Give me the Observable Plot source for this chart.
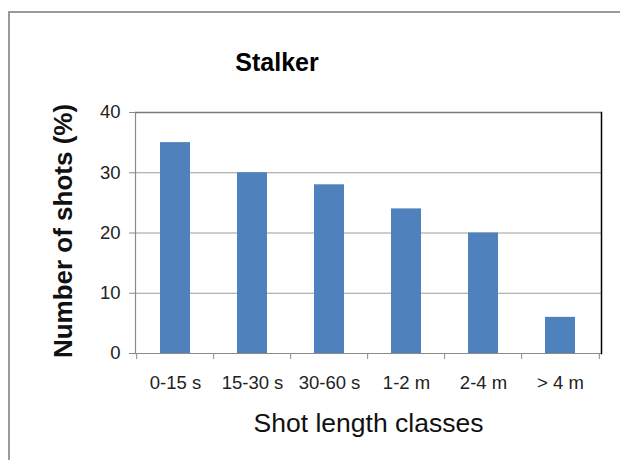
<!DOCTYPE html>
<html>
<head>
<meta charset="utf-8">
<script src="https://cdn.jsdelivr.net/npm/d3@7"></script>
<script src="https://cdn.jsdelivr.net/npm/@observablehq/plot@0.6"></script>
<style>
  body { margin: 0; background: #fff; }
  #wrap { position: relative; width: 620px; height: 460px; overflow: hidden; font-family: "Liberation Sans", Arial, sans-serif; }
  #border { position: absolute; left: 8px; top: 11px; width: 640px; height: 480px; border-left: 2px solid #9a9a9a; border-top: 2px solid #9a9a9a; }
  #title { position: absolute; left: 0; width: 554px; top: 50px; text-align: center; font-weight: bold; font-size: 25px; line-height: 25px; color: #000; }
  #chart { position: absolute; left: 0; top: 0; }
</style>
</head>
<body>
<div id="wrap">
  <div id="border"></div>
  <div id="chart"></div>
  <div id="title"></div>
</div>
<script>
// ---- data ----
const categories = ["0-15 s", "15-30 s", "30-60 s", "1-2 m", "2-4 m", "> 4 m"];
const shots = [35, 30, 28, 24, 20, 6];
const yTicks = [0, 10, 20, 30, 40];
const gridValues = [10, 20, 30];
const topValue = [40];
const titleText = "Stalker";
const xLabel = "Shot length classes";
const yLabel = "Number of shots (%)";

const data = categories.map((c, i) => ({ cat: c, value: shots[i] }));

document.getElementById("title").textContent = titleText;

const W = 620, H = 460;
const mL = 135, mR = 19, mT = 112, mB = 107;
const step = (W - mL - mR) / categories.length;

const chart = Plot.plot({
  width: W,
  height: H,
  marginLeft: mL,
  marginRight: mR,
  marginTop: mT,
  marginBottom: mB,
  style: { background: "transparent", fontFamily: "'Liberation Sans', Arial, sans-serif", overflow: "visible" },
  x: { domain: categories, paddingInner: 0.61, paddingOuter: 0.305, align: 0.5 },
  y: { domain: [0, 40] },
  marks: [
    Plot.ruleY(gridValues, { stroke: "#9d9d9d", strokeWidth: 1.2 }),
    Plot.ruleY(topValue, { stroke: "#7a7a7a", strokeWidth: 1.5 }),
    Plot.barY(data, { x: "cat", y: "value", fill: "#4F81BD" }),
    Plot.ruleY([0], { stroke: "#8a8a8a", strokeWidth: 1.2 }),
    Plot.frame({ anchor: "left", stroke: "#8a8a8a", strokeWidth: 1.2 }),
    Plot.frame({ anchor: "right", stroke: "#000", strokeWidth: 1.5 }),
    Plot.axisY({ ticks: yTicks, tickSize: 6, tickPadding: 9, fontSize: 18.5, label: null, stroke: "#8a8a8a", fill: "#222" }),
    Plot.axisX({ tickSize: 0, tickPadding: 22, fontSize: 18.5, label: null, fill: "#222" }),
    Plot.axisX({ ticks: categories, tickSize: 6, tickFormat: () => "", label: null, stroke: "#8a8a8a", dx: -step / 2 }),
    Plot.axisX({ ticks: [categories[categories.length - 1]], tickSize: 6, tickFormat: () => "", label: null, stroke: "#8a8a8a", dx: step / 2 }),
    Plot.text([xLabel], { text: d => d, frameAnchor: "bottom", lineAnchor: "top", textAnchor: "middle", dy: 60, fontSize: 26.5, fill: "#111" }),
    Plot.text([yLabel], { text: d => d, frameAnchor: "left", textAnchor: "middle", rotate: -90, dx: -72, dy: -2, fontSize: 26, fontWeight: "bold", fill: "#111" })
  ]
});
document.getElementById("chart").appendChild(chart);
</script>
</body>
</html>
